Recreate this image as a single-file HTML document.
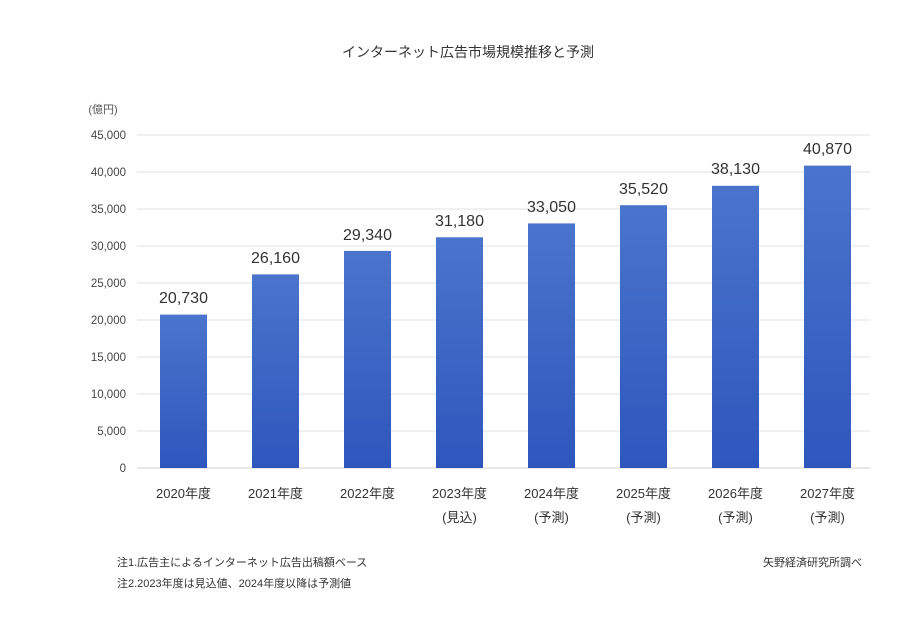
<!DOCTYPE html>
<html><head><meta charset="utf-8"><style>
body{margin:0;background:#fff;}
svg text{font-family:"Liberation Sans","Noto Sans CJK JP",sans-serif;}
</style></head><body>
<svg width="918" height="625" xmlns="http://www.w3.org/2000/svg">
<defs><linearGradient id="g" x1="0" y1="0" x2="0" y2="1"><stop offset="0" stop-color="#4a74cc"/><stop offset="1" stop-color="#2e56bd"/></linearGradient></defs>
<rect width="918" height="625" fill="#fff"/>
<text x="468" y="57" font-size="14" text-anchor="middle" fill="#333">インターネット広告市場規模推移と予測</text>
<text x="103" y="113" font-size="11" text-anchor="middle" fill="#555">(億円)</text>
<g stroke="#e2e2e2" stroke-width="1">
<line x1="137" x2="870" y1="135" y2="135"/><line x1="137" x2="870" y1="172" y2="172"/>
<line x1="137" x2="870" y1="209" y2="209"/><line x1="137" x2="870" y1="246" y2="246"/>
<line x1="137" x2="870" y1="283" y2="283"/><line x1="137" x2="870" y1="320" y2="320"/>
<line x1="137" x2="870" y1="357" y2="357"/><line x1="137" x2="870" y1="394" y2="394"/>
<line x1="137" x2="870" y1="431" y2="431"/></g>
<line x1="137" x2="870" y1="468" y2="468" stroke="#d0d0d0"/>
<g font-size="11.5" fill="#444" text-anchor="end">
<text x="126" y="139">45,000</text><text x="126" y="176">40,000</text><text x="126" y="213">35,000</text>
<text x="126" y="250">30,000</text><text x="126" y="287">25,000</text><text x="126" y="324">20,000</text>
<text x="126" y="361">15,000</text><text x="126" y="398">10,000</text><text x="126" y="435">5,000</text>
<text x="126" y="472">0</text></g>
<g fill="url(#g)">
<rect x="160" y="314.6" width="47" height="153.4"/>
<rect x="252" y="274.4" width="47" height="193.6"/>
<rect x="344" y="250.9" width="47" height="217.1"/>
<rect x="436" y="237.3" width="47" height="230.7"/>
<rect x="528" y="223.4" width="47" height="244.6"/>
<rect x="620" y="205.2" width="47" height="262.8"/>
<rect x="712" y="185.8" width="47" height="282.2"/>
<rect x="804" y="165.6" width="47" height="302.4"/></g>
<g font-size="16" fill="#333" text-anchor="middle">
<text x="183.5" y="303">20,730</text><text x="275.5" y="263">26,160</text>
<text x="367.5" y="240">29,340</text><text x="459.5" y="226">31,180</text>
<text x="551.5" y="212">33,050</text><text x="643.5" y="194">35,520</text>
<text x="735.5" y="174">38,130</text><text x="827.5" y="154">40,870</text></g>
<g font-size="13" fill="#333" text-anchor="middle">
<text x="183.5" y="498">2020年度</text><text x="275.5" y="498">2021年度</text>
<text x="367.5" y="498">2022年度</text><text x="459.5" y="498">2023年度</text>
<text x="551.5" y="498">2024年度</text><text x="643.5" y="498">2025年度</text>
<text x="735.5" y="498">2026年度</text><text x="827.5" y="498">2027年度</text>
<text x="459.5" y="522">(見込)</text><text x="551.5" y="522">(予測)</text>
<text x="643.5" y="522">(予測)</text><text x="735.5" y="522">(予測)</text><text x="827.5" y="522">(予測)</text></g>
<g font-size="11" fill="#333">
<text x="117" y="566">注1.広告主によるインターネット広告出稿額ベース</text>
<text x="117" y="587">注2.2023年度は見込値、2024年度以降は予測値</text>
<text x="862" y="566" text-anchor="end">矢野経済研究所調べ</text></g>
</svg>
</body></html>
